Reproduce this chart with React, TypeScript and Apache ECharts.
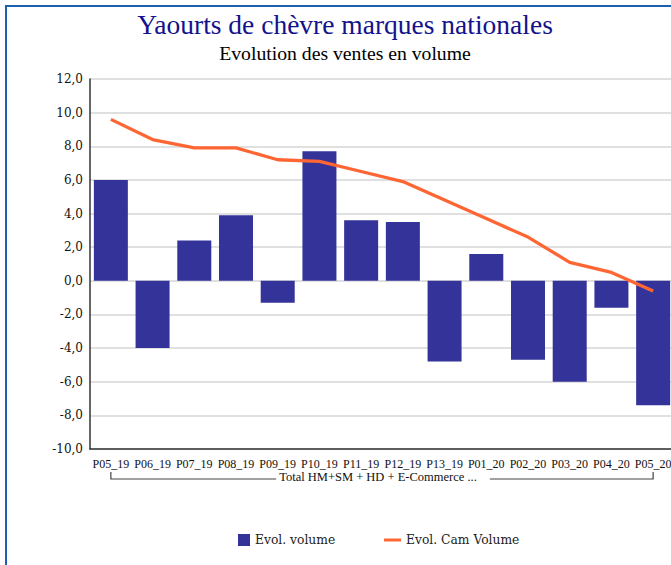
import React, { useEffect, useRef } from "react";
import * as echarts from "echarts";

const categories = [
  "P05_19", "P06_19", "P07_19", "P08_19", "P09_19", "P10_19", "P11_19",
  "P12_19", "P13_19", "P01_20", "P02_20", "P03_20", "P04_20", "P05_20",
];
const volumeEvol = [6.0, -4.0, 2.4, 3.9, -1.3, 7.7, 3.6, 3.5, -4.8, 1.6, -4.7, -6.0, -1.6, -7.4];
const camVolumeEvol = [9.6, 8.4, 7.9, 7.9, 7.2, 7.1, 6.5, 5.9, 4.8, 3.7, 2.6, 1.1, 0.5, -0.6];
const yMin = -10;
const yMax = 12;
const yInterval = 2;
const groupLabel = "Total HM+SM + HD + E-Commerce ...";
const titleText = "Yaourts de chèvre marques nationales";
const subtitleText = "Evolution des ventes en volume";
const seriesNames = ["Evol. volume", "Evol. Cam Volume"];

export default function App() {
  const ref = useRef<HTMLDivElement>(null);
  useEffect(() => {
    if (!ref.current) return;
    const chart = echarts.init(ref.current, undefined, { renderer: "svg" });
    const option: any = {
      animation: false,
      backgroundColor: "#ffffff",
      title: [
        {
          text: titleText,
          left: "center",
          top: 10,
          padding: 0,
          textStyle: { fontFamily: "Liberation Serif", fontSize: 27.5, fontWeight: "normal", color: "#12128c" },
        },
        {
          text: subtitleText,
          left: "center",
          top: 43,
          padding: 0,
          textStyle: { fontFamily: "Liberation Serif", fontSize: 19.7, fontWeight: "normal", color: "#000000" },
        },
      ],
      legend: [
        {
          data: [seriesNames[0]],
          left: 238,
          top: 534,
          padding: 0,
          itemWidth: 12,
          itemHeight: 12,
          icon: "rect",
          textStyle: { fontFamily: "DejaVu Serif", fontSize: 12.3, color: "#222" },
        },
        {
          data: [seriesNames[1]],
          left: 384,
          top: 534,
          padding: 0,
          itemWidth: 17,
          itemHeight: 3,
          icon: "rect",
          textStyle: { fontFamily: "DejaVu Serif", fontSize: 12.3, color: "#222" },
        },
      ],
      grid: { left: 90, right: 16, top: 79, bottom: 116, containLabel: false },
      xAxis: {
        type: "category",
        data: categories,
        axisLine: { show: true, onZero: false, lineStyle: { color: "#333", width: 1.5 } },
        axisTick: { show: false },
        axisLabel: {
          interval: 0,
          margin: 9,
          hideOverlap: false,
          overflow: "none",
          fontFamily: "Liberation Serif",
          fontSize: 12,
          color: "#111",
        },
      },
      yAxis: {
        type: "value",
        min: yMin,
        max: yMax,
        interval: yInterval,
        axisLine: { show: true, lineStyle: { color: "#333", width: 1.5 } },
        axisTick: { show: false },
        splitLine: { show: true, lineStyle: { color: "#d6d6d6", width: 1.5 } },
        axisLabel: {
          margin: 7,
          fontFamily: "DejaVu Serif",
          fontSize: 12,
          color: "#111",
          formatter: (v: number) => v.toFixed(1).replace(".", ","),
        },
      },
      series: [
        {
          name: seriesNames[0],
          type: "bar",
          data: volumeEvol,
          barWidth: 34,
          itemStyle: { color: "#333399" },
        },
        {
          name: seriesNames[1],
          type: "line",
          data: camVolumeEvol,
          symbol: "none",
          z: 5,
          itemStyle: { color: "#ff6633" },
          lineStyle: { color: "#ff6633", width: 3.3 },
        },
      ],
    };
    chart.setOption(option);

    const x0 = chart.convertToPixel({ xAxisIndex: 0 }, categories[0]) as number;
    const x1 = chart.convertToPixel({ xAxisIndex: 0 }, categories[categories.length - 1]) as number;
    const lineY = 479;
    const tickTop = 472;
    const mid = (x0 + x1) / 2 - 4;
    const fontSize = 12.5;
    let textW = 198;
    try {
      const ctx = document.createElement("canvas").getContext("2d");
      if (ctx) {
        ctx.font = `${fontSize}px "Liberation Serif"`;
        textW = ctx.measureText(groupLabel).width;
      }
    } catch (e) {}
    const tL = mid - textW / 2;
    const tR = mid + textW / 2;
    chart.setOption({
      graphic: [
        {
          type: "rect",
          shape: { x: 6, y: 6, width: 720, height: 640 },
          style: { fill: "none", stroke: "#1f5fb0", lineWidth: 2 },
          silent: true,
        },
        {
          type: "polyline",
          shape: { points: [[x0, tickTop], [x0, lineY], [tL - 3, lineY]] },
          style: { fill: "none", stroke: "#444", lineWidth: 1.2 },
          silent: true,
        },
        {
          type: "polyline",
          shape: { points: [[tR + 13, lineY], [x1, lineY], [x1, tickTop]] },
          style: { fill: "none", stroke: "#444", lineWidth: 1.2 },
          silent: true,
        },
        {
          type: "text",
          x: mid,
          y: 477,
          style: {
            text: groupLabel,
            fontFamily: "Liberation Serif",
            fontSize,
            fill: "#111",
            align: "center",
            verticalAlign: "middle",
          },
          z: 10,
          silent: true,
        },
      ],
    });
    return () => chart.dispose();
  }, []);
  return (
    <div
      style={{
        position: "fixed",
        left: 0,
        top: 0,
        width: 671,
        height: 565,
        overflow: "hidden",
        background: "#fff",
      }}
    >
      <div ref={ref} style={{ width: 690, height: 565 }} />
    </div>
  );
}
